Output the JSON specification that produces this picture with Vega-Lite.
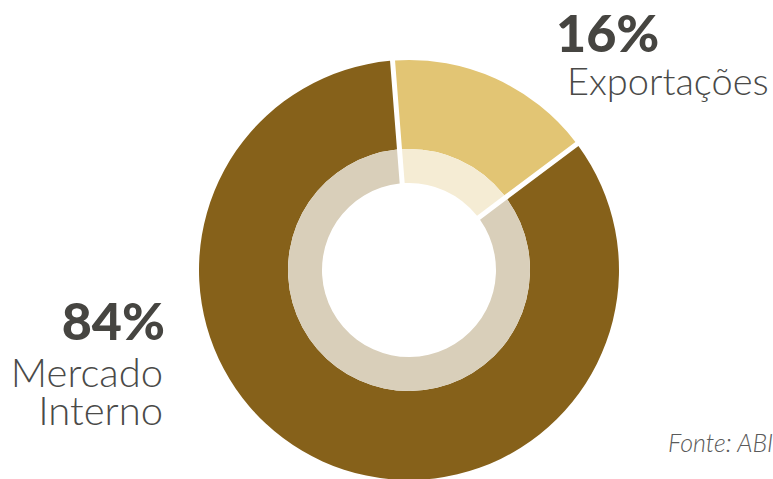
{
  "$schema": "https://vega.github.io/schema/vega-lite/v6.json",
  "autosize": {"type": "none"},
  "padding": {"left": 45, "top": 61, "right": 0, "bottom": 0},
  "width": 728,
  "height": 418,
  "background": "white",
  "config": {"view": {"stroke": null}},
  "title": {
    "text": "Fonte: ABIEC",
    "orient": "top",
    "anchor": "start",
    "frame": "group",
    "offset": -653,
    "dx": 623,
    "baseline": "alphabetic",
    "font": "Lato",
    "fontStyle": "italic",
    "fontWeight": 300,
    "fontSize": 25,
    "color": "#5a5a5a"
  },
  "data": {
    "values": [
      {"categoria": "Exportações", "valor": 16, "rotulo": "16%"},
      {"categoria": "Mercado Interno", "valor": 84, "rotulo": "84%"}
    ]
  },
  "encoding": {
    "theta": {
      "field": "valor",
      "type": "quantitative",
      "stack": true,
      "scale": {"range": [-0.0785, 6.2047]}
    }
  },
  "layer": [
    {
      "mark": {"type": "arc", "radius": 210, "radius2": 121, "padAngle": 0.0207},
      "encoding": {
        "color": {
          "field": "categoria",
          "type": "nominal",
          "scale": {"domain": ["Exportações", "Mercado Interno"], "range": ["#E2C574", "#86611A"]},
          "legend": null
        }
      }
    },
    {
      "mark": {"type": "arc", "radius": 121, "radius2": 87, "padAngle": 0.0336},
      "encoding": {
        "fill": {
          "field": "categoria",
          "type": "nominal",
          "scale": {"domain": ["Exportações", "Mercado Interno"], "range": ["#F5ECD4", "#D9CFBA"]},
          "legend": null
        }
      }
    },
    {
      "mark": {"type": "text", "radius": 260, "dx": 40, "dy": 19, "align": "left", "baseline": "alphabetic", "font": "Lato", "fontWeight": 900, "fontSize": 52, "color": "#464541"},
      "encoding": {
        "detail": {"field": "categoria", "type": "nominal"},
        "text": {"condition": {"test": "datum.categoria === 'Exportações'", "field": "rotulo"}, "value": ""}
      }
    },
    {
      "mark": {"type": "text", "radius": 260, "dx": 51, "dy": 62, "align": "left", "baseline": "alphabetic", "font": "Lato", "fontWeight": 300, "fontSize": 38, "color": "#4a4a48"},
      "encoding": {
        "detail": {"field": "categoria", "type": "nominal"},
        "text": {"condition": {"test": "datum.categoria === 'Exportações'", "field": "categoria"}, "value": ""}
      }
    },
    {
      "mark": {"type": "text", "radius": 260, "dx": -137, "dy": -167, "align": "right", "baseline": "alphabetic", "font": "Lato", "fontWeight": 900, "fontSize": 52, "color": "#464541"},
      "encoding": {
        "detail": {"field": "categoria", "type": "nominal"},
        "text": {"condition": {"test": "datum.categoria === 'Mercado Interno'", "field": "rotulo"}, "value": ""}
      }
    },
    {
      "mark": {"type": "text", "radius": 260, "dx": -139, "dy": -120, "align": "right", "baseline": "alphabetic", "lineBreak": " ", "lineHeight": 38, "font": "Lato", "fontWeight": 300, "fontSize": 40, "color": "#4a4a48"},
      "encoding": {
        "detail": {"field": "categoria", "type": "nominal"},
        "text": {"condition": {"test": "datum.categoria === 'Mercado Interno'", "field": "categoria"}, "value": ""}
      }
    }
  ]
}
